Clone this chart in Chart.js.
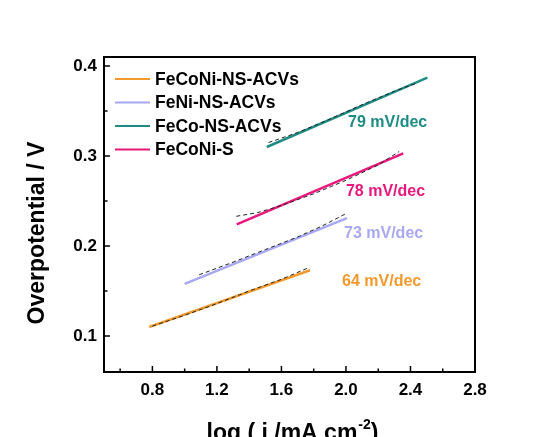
<!DOCTYPE html>
<html>
<head>
<meta charset="utf-8">
<script src="https://cdn.jsdelivr.net/npm/chart.js@4/dist/chart.umd.min.js"></script>
<style>html,body{margin:0;padding:0;background:#fff;}canvas{display:block;}</style>
</head>
<body>
<canvas id="c" width="540" height="437"></canvas>
<script>
// ---- data ----
const seriesNames = ['FeCoNi-NS-ACVs', 'FeNi-NS-ACVs', 'FeCo-NS-ACVs', 'FeCoNi-S'];
const seriesColors = ['#F39A2E', '#A8A8F2', '#1E8C84', '#E8187C'];
const slopeLabels = ['64 mV/dec', '73 mV/dec', '79 mV/dec', '78 mV/dec'];
// fitted lines (log j, overpotential)
const fitFeCoNiX = [0.78, 1.777];
const fitFeCoNiY = [0.110, 0.173];
const fitFeNiX = [1.00, 2.006];
const fitFeNiY = [0.158, 0.231];
const fitFeCoX = [1.509, 2.505];
const fitFeCoY = [0.310, 0.387];
const fitFeCoNiSX = [1.323, 2.355];
const fitFeCoNiSY = [0.224, 0.303];
// measured Tafel data (dashed)
const rawFeCoNiX = [0.80, 1.00, 1.20, 1.40, 1.60, 1.77];
const rawFeCoNiY = [0.111, 0.123, 0.136, 0.150, 0.163, 0.176];
const rawFeNiX = [1.09, 1.30, 1.50, 1.70, 1.85, 2.00];
const rawFeNiY = [0.168, 0.182, 0.196, 0.210, 0.222, 0.236];
const rawFeCoX = [1.52, 1.70, 1.90, 2.10, 2.30, 2.44];
const rawFeCoY = [0.315, 0.326, 0.341, 0.357, 0.372, 0.381];
const rawFeCoNiSX = [1.32, 1.45, 1.60, 1.80, 2.00, 2.20, 2.33];
const rawFeCoNiSY = [0.233, 0.237, 0.245, 0.258, 0.273, 0.290, 0.305];
// slope label anchor positions (data units)
const slopeLabelX = [1.976, 1.988, 2.013, 2.0];
const slopeLabelY = [0.161, 0.214, 0.337, 0.261];
// axis ticks
const xMajor = [0.8, 1.2, 1.6, 2.0, 2.4, 2.8];
const xMinor = [0.6, 1.0, 1.4, 1.8, 2.2, 2.6];
const yMajor = [0.1, 0.2, 0.3, 0.4];
const yMinor = [0.15, 0.25, 0.35];

const zip = (xs, ys) => xs.map((x, i) => ({x: x, y: ys[i]}));
const fits = [[fitFeCoNiX, fitFeCoNiY], [fitFeNiX, fitFeNiY], [fitFeCoX, fitFeCoY], [fitFeCoNiSX, fitFeCoNiSY]];
const raws = [[rawFeCoNiX, rawFeCoNiY], [rawFeNiX, rawFeNiY], [rawFeCoX, rawFeCoY], [rawFeCoNiSX, rawFeCoNiSY]];

const datasets = [];
fits.forEach((f, i) => {
  datasets.push({label: seriesNames[i], data: zip(f[0], f[1]), showLine: true, borderColor: seriesColors[i],
    backgroundColor: seriesColors[i], borderWidth: 2.5, pointRadius: 0, order: 2});
});
raws.forEach((r, i) => {
  datasets.push({label: 'raw' + i, data: zip(r[0], r[1]), showLine: true, borderColor: '#222',
    borderWidth: 1, borderDash: [4, 3], pointRadius: 0, order: 1});
});

const FONT = '"Liberation Sans", Arial, sans-serif';

const decor = {
  id: 'decor',
  afterDraw(chart) {
    const ctx = chart.ctx, a = chart.chartArea, xs = chart.scales.x, ys = chart.scales.y;
    ctx.save();
    // frame
    ctx.strokeStyle = '#000'; ctx.lineWidth = 2;
    ctx.strokeRect(a.left, a.top, a.right - a.left, a.bottom - a.top);
    // inward ticks
    ctx.lineWidth = 1.5;
    ctx.beginPath();
    xMajor.forEach(v => { const p = xs.getPixelForValue(v); ctx.moveTo(p, a.bottom); ctx.lineTo(p, a.bottom - 6); });
    xMinor.forEach(v => { const p = xs.getPixelForValue(v); ctx.moveTo(p, a.bottom); ctx.lineTo(p, a.bottom - 3.5); });
    yMajor.forEach(v => { const p = ys.getPixelForValue(v); ctx.moveTo(a.left, p); ctx.lineTo(a.left + 6, p); });
    yMinor.forEach(v => { const p = ys.getPixelForValue(v); ctx.moveTo(a.left, p); ctx.lineTo(a.left + 3.5, p); });
    ctx.stroke();
    // legend
    ctx.font = 'bold 17.5px ' + FONT;
    ctx.textBaseline = 'middle'; ctx.textAlign = 'left';
    seriesNames.forEach((n, i) => {
      const y = 79 + i * 23.5;
      ctx.strokeStyle = seriesColors[i]; ctx.lineWidth = 2;
      ctx.beginPath(); ctx.moveTo(115, y); ctx.lineTo(150, y); ctx.stroke();
      ctx.fillStyle = '#000'; ctx.fillText(n, 155, y + 1);
    });
    // slope labels
    ctx.font = 'bold 16px ' + FONT;
    slopeLabels.forEach((t, i) => {
      ctx.fillStyle = seriesColors[i];
      ctx.fillText(t, xs.getPixelForValue(slopeLabelX[i]), ys.getPixelForValue(slopeLabelY[i]));
    });
    // y title
    ctx.fillStyle = '#000';
    ctx.font = 'bold 23px ' + FONT;
    ctx.save();
    ctx.translate(38, 233); ctx.rotate(-Math.PI / 2);
    ctx.textAlign = 'center'; ctx.fillText('Overpotential / V', 0, 0);
    ctx.restore();
    // x title with superscript
    ctx.textBaseline = 'alphabetic';
    const main = 'log ( j /mA cm', sup = '-2', close = ')';
    ctx.font = 'bold 23px ' + FONT; const w1 = ctx.measureText(main).width, w3 = ctx.measureText(close).width;
    ctx.font = 'bold 14px ' + FONT; const w2 = ctx.measureText(sup).width;
    let x0 = 292 - (w1 + w2 + w3) / 2; const by = 440;
    ctx.font = 'bold 23px ' + FONT; ctx.fillText(main, x0, by);
    ctx.font = 'bold 14px ' + FONT; ctx.fillText(sup, x0 + w1 + 1, by - 11);
    ctx.font = 'bold 23px ' + FONT; ctx.fillText(close, x0 + w1 + w2 + 1, by);
    ctx.restore();
  }
};

new Chart(document.getElementById('c'), {
  type: 'scatter',
  data: {datasets: datasets},
  options: {
    responsive: false, animation: false, devicePixelRatio: 1,
    layout: {padding: {top: 57, right: 65, left: 0, bottom: 0}},
    plugins: {legend: {display: false}, tooltip: {enabled: false}},
    scales: {
      x: {type: 'linear', min: 0.5, max: 2.8,
        afterBuildTicks: s => { s.ticks = xMajor.map(v => ({value: v})); },
        afterFit: s => { s.height = 65; },
        grid: {display: false, drawTicks: false}, border: {display: false},
        ticks: {padding: 8, color: '#000', font: {family: FONT, weight: 'bold', size: 17},
          callback: v => v.toFixed(1), maxRotation: 0}},
      y: {type: 'linear', min: 0.06, max: 0.41,
        afterBuildTicks: s => { s.ticks = yMajor.map(v => ({value: v})); },
        afterFit: s => { s.width = 104; },
        grid: {display: false, drawTicks: false}, border: {display: false},
        ticks: {padding: 7, color: '#000', font: {family: FONT, weight: 'bold', size: 17},
          callback: v => v.toFixed(1)}}
    }
  },
  plugins: [decor]
});
</script>
</body>
</html>
